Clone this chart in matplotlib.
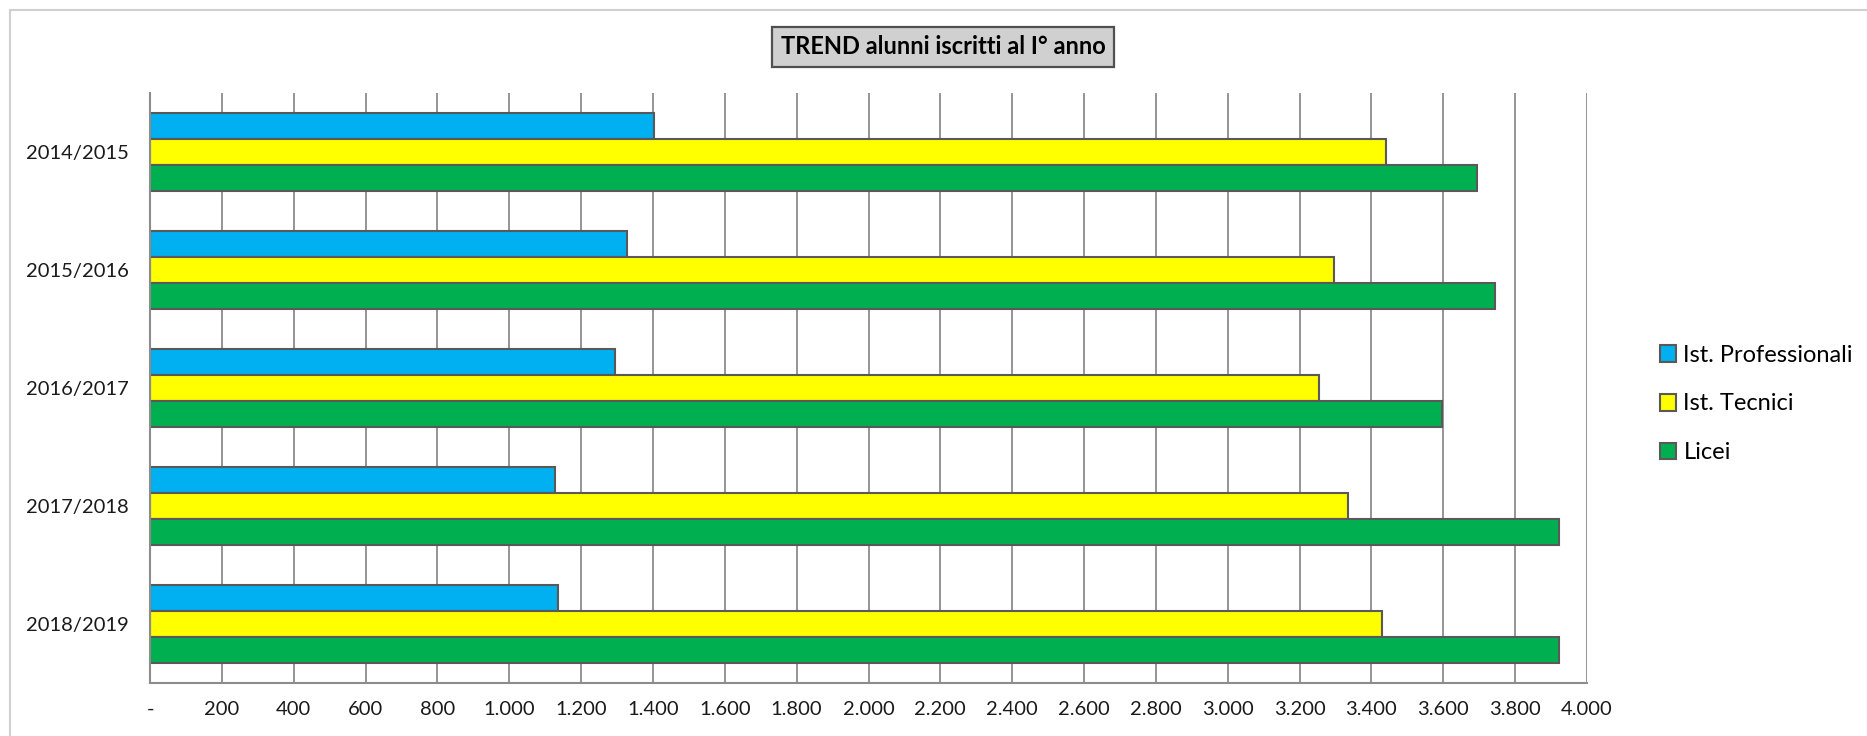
import numpy as np
import matplotlib
matplotlib.use("Agg")
import matplotlib.pyplot as plt
from matplotlib.patches import Rectangle
from matplotlib.ticker import FuncFormatter, MultipleLocator

# data
anni = ["2014/2015", "2015/2016", "2016/2017", "2017/2018", "2018/2019"]
professionali = [1404, 1329, 1293, 1127, 1137]
tecnici = [3440, 3296, 3255, 3334, 3429]
licei = [3694, 3744, 3596, 3921, 3921]
serie = ["Ist. Professionali", "Ist. Tecnici", "Licei"]
titolo = "TREND alunni iscritti al I° anno"

BLUE = "#00B0F0"
YELLOW = "#FFFF00"
GREEN = "#00B050"
EDGE = "#595959"
GRID = "#8C8C8C"

plt.rcParams["font.family"] = ["Lato", "DejaVu Sans"]

fig = plt.figure(figsize=(18.67, 7.36), dpi=100)
ax = fig.add_axes([150 / 1867, 1 - 683 / 736, (1587 - 150) / 1867, (683 - 93) / 736])

y = np.arange(len(anni))
h = 0.22
b1 = ax.barh(y - h, professionali, height=h, color=BLUE, edgecolor=EDGE, lw=1.5, label=serie[0])
b2 = ax.barh(y, tecnici, height=h, color=YELLOW, edgecolor=EDGE, lw=1.5, label=serie[1])
b3 = ax.barh(y + h, licei, height=h, color=GREEN, edgecolor=EDGE, lw=1.5, label=serie[2])

ax.set_xlim(0, 4000)
ax.set_ylim(len(anni) - 0.5, -0.5)
ax.xaxis.set_major_locator(MultipleLocator(200))
ax.xaxis.set_major_formatter(FuncFormatter(
    lambda v, p: "-" if v == 0 else f"{int(v):,}".replace(",", ".")))
ax.set_yticks(y)
ax.set_yticklabels(anni)
ax.tick_params(axis="both", length=0, labelsize=14.5, colors="#1a1a1a")
ax.tick_params(axis="x", pad=13)
ax.tick_params(axis="y", pad=15)

ax.set_axisbelow(True)
ax.xaxis.grid(True, color=GRID, lw=1.3)
for s in ["top", "right"]:
    ax.spines[s].set_visible(False)
for s in ["left", "bottom"]:
    ax.spines[s].set_color(GRID)
    ax.spines[s].set_linewidth(1.5)

# title in a grey box
fig.text(943 / 1867, 1 - 47 / 736, titolo, ha="center", va="center",
         fontsize=17, fontweight="bold", color="black",
         bbox=dict(boxstyle="square,pad=0.35", facecolor="#D0D0D0",
                   edgecolor="#505050", lw=1.6))

fig.legend(handles=[b1, b2, b3], loc="center left",
           bbox_to_anchor=(1648 / 1867, 1 - 404 / 736), frameon=False,
           fontsize=17, handlelength=0.7, handleheight=0.7,
           handletextpad=0.3, labelspacing=1.18, borderpad=0)

# light chart-area border
fig.patches.append(Rectangle((10 / 1867, -0.05), 1.2, 1 - 10 / 736 + 0.05,
                             transform=fig.transFigure, fill=False,
                             edgecolor="#D0D0D0", lw=1.5))

fig.savefig("out.png", dpi=100)
